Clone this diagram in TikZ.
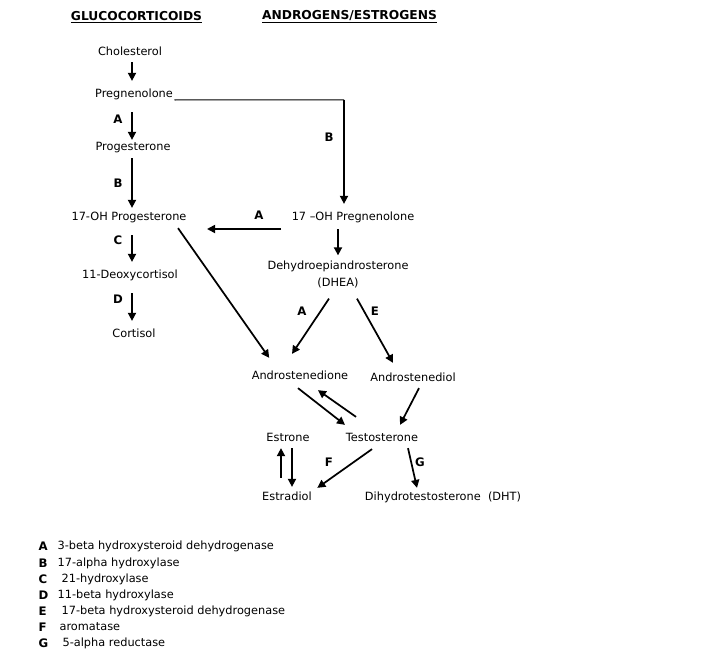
\documentclass[tikz,border=0pt]{standalone}
\usepackage{fontspec}
\setmainfont{DejaVu Sans}
\usetikzlibrary{arrows.meta,calc}

\begin{document}
\begin{tikzpicture}[x=0.75pt,y=-0.75pt,
    every node/.style={font=\fontsize{8.5}{12.75}\selectfont, inner sep=1pt},
    mol/.style={text height=6.5pt, text depth=1.8pt},
    enz/.style={font=\fontsize{8.8}{12.75}\selectfont\bfseries},
    head/.style={font=\fontsize{9.2}{12.75}\selectfont\bfseries},
    arr/.style={line width=1.3pt, -{Triangle[length=6pt,width=6pt]}}]
    \useasboundingbox (0,0) rectangle (722,657);

    % headings
    \node[head] (glu) at (136.5,17) {\underline{GLUCOCORTICOIDS}};
    \node[head] (andr) at (349.5,17) {\underline{ANDROGENS/ESTROGENS}};

    % glucocorticoid column
    \node[mol] (chol) at (130,52) {Cholesterol};
    \node[mol] (preg) at (134,94) {Pregnenolone};
    \node[mol] (prog) at (133,147) {Progesterone};
    \node[mol] (ohprog) at (129,217) {17-OH Progesterone};
    \node[mol] (deoxy) at (130,275) {11-Deoxycortisol};
    \node[mol] (cort) at (134,334) {Cortisol};

    \draw[arr] ($(chol.south)+(2,3)$) -- ($(preg.north)+(-2,-6)$);
    \draw[arr] ($(preg.south)+(-2,11)$) -- ($(prog.north)+(-1,-0)$);
    \draw[arr] ($(prog.south)+(-1,4)$) -- ($(ohprog.north)+(3,-2)$);
    \draw[arr] ($(ohprog.south)+(3,11)$) -- ($(deoxy.north)+(2,-6)$);
    \draw[arr] ($(deoxy.south)+(2,11)$) -- ($(cort.north)+(-2,-6)$);
    \node[enz] (la1) at (118,119) {A};
    \node[enz] (lb1) at (118,183) {B};
    \node[enz] (lc) at (118,240) {C};
    \node[enz] (ld) at (118,299) {D};

    % androgen / estrogen branch
    \node[mol] (ohpreg) at (353,217) {17 –OH Pregnenolone};
    \node[align=center] (dhea) at (338,274.5) {Dehydroepiandrosterone\\(DHEA)};
    \node[mol] (andione) at (300,376) {Androstenedione};
    \node[mol] (andiol) at (413,378) {Androstenediol};
    \node[mol] (testo) at (382,438) {Testosterone};
    \node[mol] (estrone) at (288,438) {Estrone};
    \node[mol] (estradiol) at (287,497) {Estradiol};
    \node[mol] (dht) at (443,497) {Dihydrotestosterone\ \ (DHT)};

    \coordinate (bend) at ($(ohpreg.north)+(-9,-110)$);
    \draw[line width=0.8pt] ($(preg.east)+(1,6)$) -- (preg.east |- bend) -- (bend);
    \draw[arr] (bend) -- ($(ohpreg.north)+(-9,-6)$);
    \draw[arr] ($(ohpreg.west)+(-9,12)$) -- ($(ohprog.east)+(19,12)$);
    \draw[arr] ($(ohpreg.south)+(-15,5)$) -- ($(dhea.north)+(0,-4)$);
    \draw[arr] ($(ohprog.south east)+(-10,4)$) -- ($(andione.north west)+(19,-11)$);
    \draw[arr] ($(dhea.south)+(-9,9)$) -- ($(andione.north)+(-8,-15)$);
    \draw[arr] ($(dhea.south)+(19,9)$) -- ($(andiol.north)+(-20,-8)$);
    \draw[arr] ($(andione.south)+(-2,5)$) -- ($(testo.north)+(-37,-6)$);
    \draw[arr] ($(testo.north)+(-26,-14)$) -- ($(andione.south)+(18,7)$);
    \draw[arr] ($(andiol.south)+(6,3)$) -- ($(testo.north)+(18,-6)$);
    \draw[arr] ($(estradiol.north)+(-6,-12)$) -- ($(estrone.south)+(-7,3)$);
    \draw[arr] ($(estrone.south)+(4,3)$) -- ($(estradiol.north)+(5,-3)$);
    \draw[arr] ($(testo.south)+(-10,4)$) -- ($(estradiol.north east)+(4,-2)$);
    \draw[arr] ($(testo.south)+(26,3)$) -- ($(dht.north)+(-26,-2)$);
    \node[enz] (lb2) at (329,137) {B};
    \node[enz] (la2) at (259,215) {A};
    \node[enz] (la3) at (302,311) {A};
    \node[enz] (le) at (375,311) {E};
    \node[enz] (lf) at (329,462) {F};
    \node[enz] (lg) at (420,462) {G};

    % enzyme key
    \foreach \lab/\ypos/\xpos/\name in {A/546/56/3-beta hydroxysteroid dehydrogenase,
        B/563/56/17-alpha hydroxylase, C/579/60/21-hydroxylase,
        D/595/56/11-beta hydroxylase, E/611/60/17-beta hydroxysteroid dehydrogenase,
        F/627/58/aromatase, G/643/61/5-alpha reductase} {
      \node[enz, anchor=west] (key\lab) at (37,\ypos) {\lab};
      \node[mol, anchor=west] (name\lab) at (\xpos,\ypos) {\name};
    }
\end{tikzpicture}
\end{document}
